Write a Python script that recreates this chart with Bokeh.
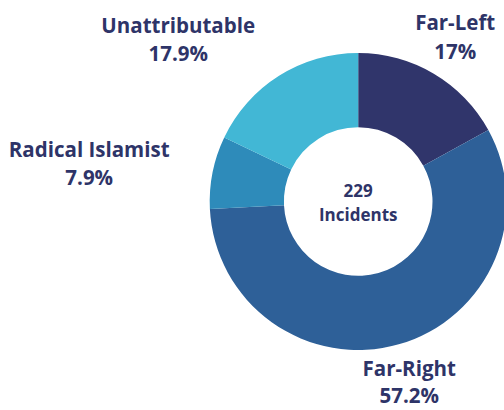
import numpy as np
from bokeh.plotting import figure
from bokeh.models import Range1d, ColumnDataSource
from bokeh.core.properties import value
from bokeh.embed import file_html
from bokeh.resources import INLINE

categories = ["Far-Left", "Far-Right", "Radical Islamist", "Unattributable"]
shares = [17.0, 57.2, 7.9, 17.9]
pct_labels = ["17%", "57.2%", "7.9%", "17.9%"]
colors = ["#30356b", "#2e6098", "#2e8bba", "#42b7d5"]
total_incidents = 229

# label anchor positions (data units = px, donut centre at 0,0)
label_x = [97, 51, -269, -180]
label_name_y = [180, -166, 53, 177]
label_pct_y = [151, -193, 25, 149]

fracs = np.array(shares) / np.sum(shares)
cum = np.concatenate([[0], np.cumsum(fracs)])
start = np.pi / 2 - 2 * np.pi * cum[:-1]
end = np.pi / 2 - 2 * np.pi * cum[1:]

src = ColumnDataSource(dict(start=start, end=end, color=colors))

W, H = 504, 410
cx, cy = 357.7, 201
p = figure(width=W, height=H, output_backend="svg", toolbar_location=None,
           x_range=Range1d(-cx, W - cx), y_range=Range1d(-(H - cy), cy),
           min_border=0)
p.axis.visible = False
p.grid.visible = False
p.outline_line_color = None
p.background_fill_color = "white"
p.border_fill_color = "white"

p.annular_wedge(x=0, y=0, inner_radius=74.3, outer_radius=148.5,
                start_angle="start", end_angle="end", direction="clock",
                color="color", line_color=None, source=src)

txt_color = "#2e3468"
font = value("Open Sans")
p.text(x=label_x, y=label_name_y, text=categories, text_align="center",
       text_baseline="alphabetic", text_font=font, text_font_style="bold",
       text_font_size="20.5px", text_color=txt_color)
p.text(x=label_x, y=label_pct_y, text=pct_labels, text_align="center",
       text_baseline="alphabetic", text_font=font, text_font_style="bold",
       text_font_size="20.5px", text_color=txt_color)
p.text(x=[0, 0], y=[11, -13], text=[str(total_incidents), "Incidents"],
       text_align="center", text_baseline="alphabetic", text_font=font,
       text_font_style="bold", text_font_size="17px", text_color=txt_color)

open("out.html", "w").write(file_html(p, INLINE))
